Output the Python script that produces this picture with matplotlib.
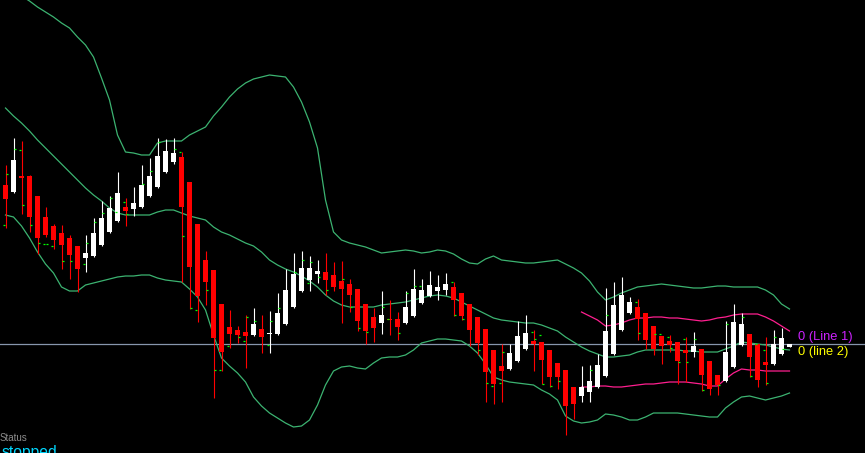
#!/usr/bin/env python3
# candles + bollinger style bands, dark terminal look
import numpy as np
import matplotlib
matplotlib.use("Agg")
import matplotlib.pyplot as plt

nan = np.nan

# price data (arbitrary points)
opens = [268, 261, 277, 277, 257, 236, 227, 220, 215, 207,
         195, 197, 208, 221, 232, 246, 244, 246, 257, 266,
         281, 291, 296, 271, 229, 193, 183, 149, 126, 123,
         121, 118, 124, 119, 119, 129, 146, 162, 173, 179,
         181, 178, 172, 169, 164, 149, 136, 130, 134, 134,
         130, 137, 150, 157, 162, 163, 166, 160, 149, 136,
         124, 103, 87, 84, 92, 104, 112, 111, 103, 90,
         83, 66, 57, 61, 66, 77, 99, 123, 140, 146,
         140, 127, 117, 112, 111, 103, 101, 104, 92, 78,
         72, 86, 108, 119, 109, 91, 89, 99, 106]
highs = [288, 315, 312, 278, 257, 246, 229, 228, 218, 207,
         218, 235, 252, 257, 281, 255, 266, 288, 295, 315,
         314, 315, 301, 271, 229, 202, 183, 149, 143, 127,
         138, 145, 138, 142, 160, 184, 200, 202, 197, 193,
         200, 191, 192, 174, 164, 149, 145, 162, 153, 141,
         162, 184, 174, 182, 178, 180, 171, 160, 149, 136,
         124, 103, 109, 109, 132, 138, 123, 111, 103, 90,
         83, 66, 87, 88, 99, 165, 171, 176, 156, 154,
         140, 127, 117, 118, 111, 116, 121, 104, 92, 78,
         132, 149, 140, 119, 109, 116, 123, 125, 109]
lows = [225, 260, 239, 221, 199, 216, 204, 184, 174, 161,
        181, 196, 207, 220, 231, 227, 237, 245, 256, 265,
        280, 289, 171, 144, 131, 148, 55, 82, 105, 110,
        85, 117, 100, 100, 118, 128, 145, 161, 162, 170,
        158, 162, 130, 141, 122, 109, 111, 119, 118, 113,
        129, 136, 149, 156, 153, 158, 137, 133, 107, 98,
        51, 49, 51, 83, 91, 103, 82, 69, 66, 64,
        18, 34, 51, 51, 65, 76, 98, 122, 139, 113,
        104, 98, 89, 101, 69, 71, 96, 62, 58, 58,
        71, 85, 107, 76, 66, 68, 88, 98, 106]
closes = [254, 293, 275, 236, 215, 218, 213, 208, 198, 184,
          200, 220, 235, 245, 260, 242, 250, 268, 277, 297,
          302, 300, 246, 186, 157, 171, 115, 101, 119, 118,
          117, 129, 116, 120, 140, 163, 179, 185, 185, 182,
          173, 166, 164, 158, 132, 122, 125, 138, 133, 126,
          146, 164, 163, 168, 166, 169, 153, 137, 123, 110,
          81, 69, 82, 100, 117, 120, 109, 93, 76, 76,
          47, 49, 66, 72, 88, 122, 148, 158, 151, 134,
          113, 104, 107, 108, 92, 100, 107, 78, 64, 68,
          101, 131, 129, 96, 73, 88, 109, 115, 109]

# small green marks beside the bars
tick_right = [279, 304, 248, 228, 210, 209, nan, 192, 192, nan,
              210, 231, 240, 255, nan, 239, nan, 269, 282, 311,
              nan, 304, 217, 145, nan, 163, 83, nan, nan, 116,
              136, 132, nan, 132, 145, nan, 181, 193, 191, 176,
              163, nan, 174, 146, 125, 121, nan, 146, nan, 120,
              160, 167, nan, nan, nan, nan, 138, 134, nan, 103,
              70, nan, 101, nan, nan, nan, 114, 69, 67, 72,
              nan, nan, nan, 83, nan, 138, nan, nan, nan, 120,
              nan, 119, nan, 105, 91, 91, 114, 63, nan, 68,
              129, nan, 136, 77, nan, 70, 116, 104, nan]
tick_left = [228, nan, 303, nan, nan, 209, 207, nan, nan, nan,
             189, nan, nan, nan, 241, 251, nan, nan, nan, nan,
             nan, nan, 301, nan, 143, nan, nan, 83, 107, nan,
             112, nan, nan, 108, nan, nan, nan, nan, 170, nan,
             nan, nan, nan, nan, nan, nan, nan, nan, 134, nan,
             nan, nan, 167, nan, nan, nan, 171, nan, nan, nan,
             nan, 67, 70, nan, nan, nan, 121, 118, nan, nan,
             nan, nan, nan, nan, nan, nan, nan, nan, nan, 151,
             nan, nan, 119, 116, nan, 114, nan, nan, nan, nan,
             nan, nan, nan, nan, 109, 103, nan, nan, nan]

# bands
band_upper = [467, 462, 457, 452, 446, 441, 436, 430, 425, 416,
              408, 396, 375, 353, 318, 301, 300, 298, 298, 310,
              312, 312, 312, 318, 322, 326, 337, 346, 356, 364,
              370, 374, 376, 378, 377, 376, 366, 351, 331, 305,
              253, 221, 213, 210, 208, 206, 203, 200, 201, 202,
              203, 202, 200, 201, 203, 202, 199, 194, 190, 189,
              194, 197, 193, 192, 191, 190, 190, 191, 192, 193,
              189, 185, 180, 172, 161, 153, 156, 160, 163, 166,
              167, 168, 169, 168, 167, 166, 165, 165, 166, 167,
              167, 166, 166, 166, 166, 163, 158, 149, 144]
band_mid = [345, 337, 330, 322, 313, 305, 297, 289, 281, 273,
            265, 258, 252, 245, 240, 238, 238, 238, 238, 241,
            243, 243, 240, 237, 235, 233, 226, 221, 218, 214,
            210, 207, 201, 193, 188, 184, 181, 177, 172, 166,
            158, 152, 148, 146, 146, 146, 146, 148, 149, 150,
            151, 153, 155, 157, 158, 157, 155, 151, 147, 143,
            139, 135, 133, 132, 131, 130, 130, 128, 125, 122,
            116, 111, 106, 102, 99, 96, 96, 97, 98, 101,
            103, 103, 103, 103, 103, 102, 102, 101, 101, 101,
            104, 107, 111, 110, 109, 108, 106, 104, 103]
band_lower = [238, 236, 227, 215, 201, 189, 180, 166, 162, 162,
              168, 170, 172, 174, 176, 177, 177, 178, 178, 175,
              173, 172, 171, 164, 156, 143, 118, 95, 87, 80,
              71, 56, 47, 40, 35, 30, 26, 27, 33, 48,
              68, 82, 86, 87, 85, 84, 90, 95, 96, 96,
              98, 103, 110, 112, 114, 114, 113, 112, 107, 100,
              89, 76, 73, 71, 70, 69, 68, 63, 59, 53,
              37, 32, 30, 31, 33, 39, 38, 36, 33, 33,
              36, 40, 40, 40, 40, 39, 38, 37, 36, 36,
              45, 51, 56, 57, 55, 53, 55, 57, 60]

# second (narrow) band, starts at bar 72
pink_start = 72
pink_upper = [141, 137, 133, 127, 128, 130, 133, 135, 135, 136,
              136, 135, 135, 134, 133, 132, 133, 135, 136, 138,
              139, 139, 139, 136, 132, 127, 122]
pink_lower = [66, 66, 67, 67, 66, 66, 67, 68, 69, 69,
              70, 71, 71, 71, 70, 69, 67, 67, 74, 80,
              84, 83, 83, 82, 82, 82, 82]

GREEN = "#3cb371"
PINK = "#ff1f8f"

o = np.array(opens, float)
h = np.array(highs, float)
l = np.array(lows, float)
c = np.array(closes, float)
idx = np.arange(len(c))

fig = plt.figure(figsize=(8.65, 4.53), dpi=100, facecolor="black")
ax = fig.add_axes([0, 0, 1, 1])
ax.set_facecolor("black")
ax.set_xlim(-0.6875, 107.4375)
ax.set_ylim(0, 453)
ax.axis("off")

# bid line
ax.axhline(c[-1], color="#8796ad", lw=0.9, zorder=1)

# bands
ax.plot(idx, band_upper, color=GREEN, lw=0.9, zorder=2)
ax.plot(idx, band_mid, color=GREEN, lw=0.9, zorder=2)
ax.plot(idx, band_lower, color=GREEN, lw=0.9, zorder=2)
pidx = np.arange(pink_start, pink_start + len(pink_upper))
ax.plot(pidx, pink_upper, color=PINK, lw=0.9, zorder=2)
ax.plot(pidx, pink_lower, color=PINK, lw=0.9, zorder=2)

# candles
up = c >= o
cols = np.where(up, "#ffffff", "#ff0000")
ax.vlines(idx, l, h, colors=cols, lw=0.8, zorder=3)
ax.bar(idx, np.maximum(np.abs(c - o), 1.2), bottom=np.minimum(o, c),
       width=0.62, color=cols, lw=0, zorder=4)

# green marks
tr = np.array(tick_right, float)
tl = np.array(tick_left, float)
m = ~np.isnan(tr)
ax.hlines(tr[m], idx[m] + 0.07, idx[m] + 0.32, colors="#00ff00", lw=0.9, zorder=5)
m = ~np.isnan(tl)
ax.hlines(tl[m], idx[m] - 0.32, idx[m] - 0.07, colors="#00ff00", lw=0.9, zorder=5)

# buffer labels
ax.text(len(c) + 0.1, c[-1] + 7, "0 (Line 1)", color="#cc22ff", fontsize=9.3,
        family="Liberation Sans", va="center", ha="left")
ax.text(len(c) + 0.1, c[-1] - 8, "0 (line 2)", color="#ffff00", fontsize=9.3,
        family="Liberation Sans", va="center", ha="left")

# status
fig.text(0.0, 12 / 453, "Status", color="#8c8c8c", fontsize=7,
         family="Liberation Sans", va="baseline", ha="left")
fig.text(0.002, -4 / 453, "stopped", color="#00d8ff", fontsize=11.3,
         family="Liberation Sans", va="baseline", ha="left")

fig.savefig("out.png", dpi=100, facecolor="black")
